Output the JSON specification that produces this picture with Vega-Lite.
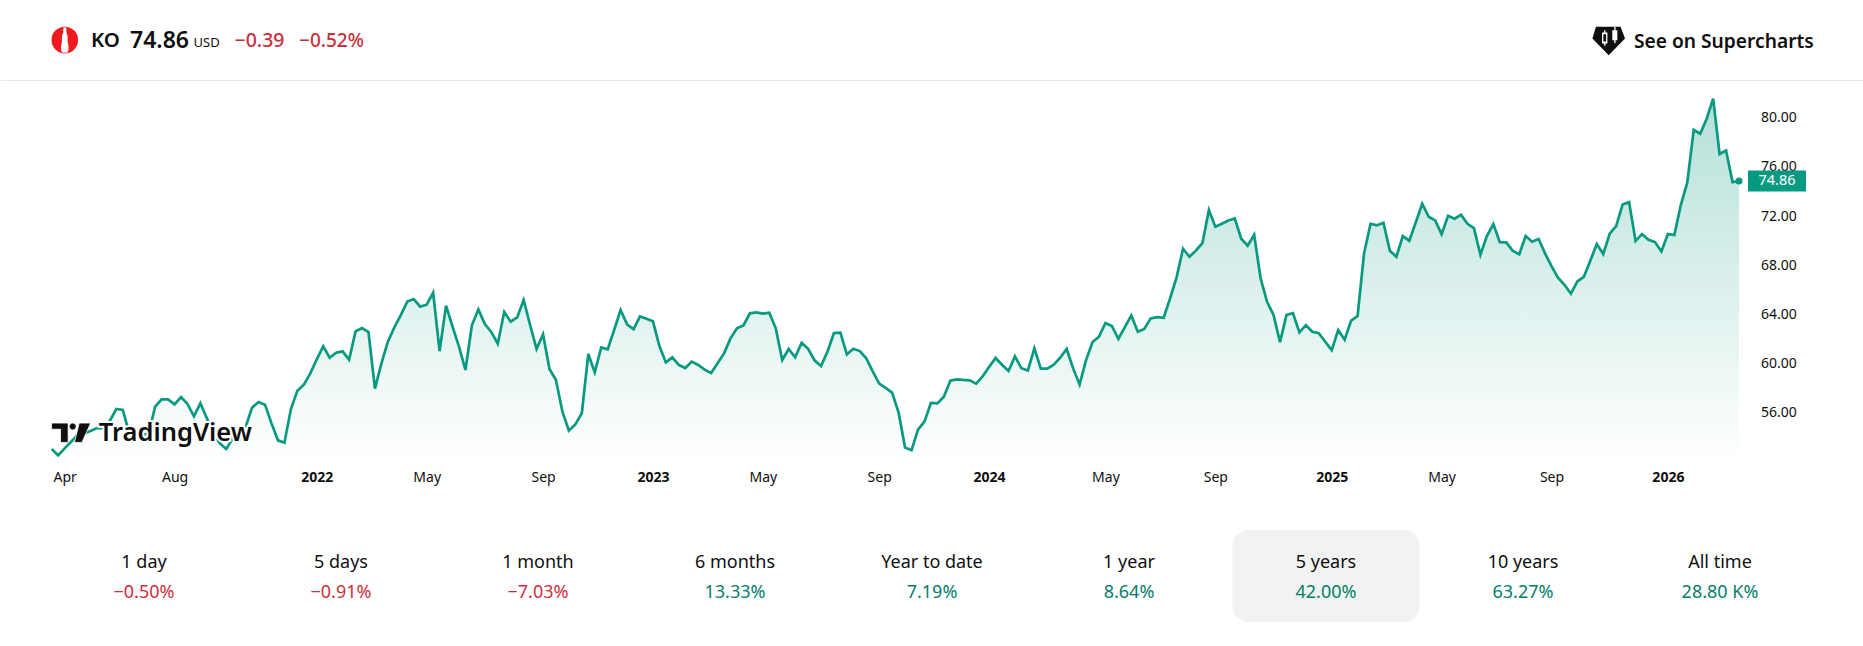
{
  "$schema": "https://vega.github.io/schema/vega-lite/v6.json",
  "description": "KO weekly close over 5 years with period performance row",
  "padding": 0,
  "spacing": 0,
  "bounds": "flush",
  "background": "white",
  "config": {
    "view": {"stroke": null},
    "font": "Noto Sans",
    "text": {"font": "Noto Sans"},
    "axis": {"labelFont": "Noto Sans"}
  },
  "datasets": {
    "header": [
      {"side": "left", "item": "icon"},
      {"side": "left", "item": "KO"},
      {"side": "left", "item": "74.86"},
      {"side": "left", "item": "USD"},
      {"side": "left", "item": "−0.39"},
      {"side": "left", "item": "−0.52%"},
      {"side": "right", "item": "See on Supercharts"}
    ],
    "periods": [
      {"period": "1 day", "change": -0.5, "label": "−0.50%"},
      {"period": "5 days", "change": -0.91, "label": "−0.91%"},
      {"period": "1 month", "change": -7.03, "label": "−7.03%"},
      {"period": "6 months", "change": 13.33, "label": "13.33%"},
      {"period": "Year to date", "change": 7.19, "label": "7.19%"},
      {"period": "1 year", "change": 8.64, "label": "8.64%"},
      {"period": "5 years", "change": 42.0, "label": "42.00%"},
      {"period": "10 years", "change": 63.27, "label": "63.27%"},
      {"period": "All time", "change": 28800, "label": "28.80 K%"}
    ],
    "last": [{"date": "2026-03-23", "close": 74.86}],
    "prices": [
      {"date":"2021-03-22","close":53.07},{"date":"2021-03-29","close":52.55},{"date":"2021-04-05","close":53.12},{"date":"2021-04-12","close":53.66},{"date":"2021-04-19","close":54.21},{"date":"2021-04-26","close":54.34},{"date":"2021-05-03","close":54.53},{"date":"2021-05-10","close":54.77},{"date":"2021-05-17","close":54.77},{"date":"2021-05-24","close":55.37},{"date":"2021-05-31","close":56.32},{"date":"2021-06-07","close":56.24},{"date":"2021-06-14","close":54.34},{"date":"2021-06-21","close":54.07},{"date":"2021-06-28","close":54.21},{"date":"2021-07-05","close":54.34},{"date":"2021-07-12","close":56.51},{"date":"2021-07-19","close":57.1},{"date":"2021-07-26","close":57.1},{"date":"2021-08-02","close":56.7},{"date":"2021-08-09","close":57.29},{"date":"2021-08-16","close":56.73},{"date":"2021-08-23","close":55.72},{"date":"2021-08-30","close":56.78},{"date":"2021-09-06","close":55.56},{"date":"2021-09-13","close":54.34},{"date":"2021-09-20","close":53.53},{"date":"2021-09-27","close":53.07},{"date":"2021-10-04","close":53.93},{"date":"2021-10-11","close":54.48},{"date":"2021-10-18","close":54.88},{"date":"2021-10-25","close":56.43},{"date":"2021-11-01","close":56.89},{"date":"2021-11-08","close":56.67},{"date":"2021-11-15","close":55.15},{"date":"2021-11-22","close":53.77},{"date":"2021-11-29","close":53.58},{"date":"2021-12-06","close":56.32},{"date":"2021-12-13","close":57.81},{"date":"2021-12-20","close":58.3},{"date":"2021-12-27","close":59.22},
      {"date":"2022-01-03","close":60.36},{"date":"2022-01-10","close":61.41},{"date":"2022-01-17","close":60.49},{"date":"2022-01-24","close":60.9},{"date":"2022-01-31","close":61.01},{"date":"2022-02-07","close":60.33},{"date":"2022-02-14","close":62.63},{"date":"2022-02-21","close":62.9},{"date":"2022-02-28","close":62.58},{"date":"2022-03-07","close":57.97},{"date":"2022-03-14","close":60.03},{"date":"2022-03-21","close":61.79},{"date":"2022-03-28","close":62.96},{"date":"2022-04-04","close":63.96},{"date":"2022-04-11","close":65.05},{"date":"2022-04-18","close":65.26},{"date":"2022-04-25","close":64.64},{"date":"2022-05-02","close":64.8},{"date":"2022-05-09","close":65.78},{"date":"2022-05-16","close":61.03},{"date":"2022-05-23","close":64.72},{"date":"2022-05-30","close":63.01},{"date":"2022-06-06","close":61.39},{"date":"2022-06-13","close":59.49},{"date":"2022-06-20","close":63.15},{"date":"2022-06-27","close":64.42},{"date":"2022-07-04","close":63.23},{"date":"2022-07-11","close":62.58},{"date":"2022-07-18","close":61.63},{"date":"2022-07-25","close":64.21},{"date":"2022-08-01","close":63.42},{"date":"2022-08-08","close":63.77},{"date":"2022-08-15","close":65.18},{"date":"2022-08-22","close":63.15},{"date":"2022-08-29","close":61.2},{"date":"2022-09-05","close":62.39},{"date":"2022-09-12","close":59.57},{"date":"2022-09-19","close":58.68},{"date":"2022-09-26","close":56.1},{"date":"2022-10-03","close":54.56},{"date":"2022-10-10","close":55.07},{"date":"2022-10-17","close":55.97},{"date":"2022-10-24","close":60.79},{"date":"2022-10-31","close":59.3},{"date":"2022-11-07","close":61.33},{"date":"2022-11-14","close":61.17},{"date":"2022-11-21","close":62.74},{"date":"2022-11-28","close":64.37},{"date":"2022-12-05","close":63.2},{"date":"2022-12-12","close":62.8},{"date":"2022-12-19","close":63.85},{"date":"2022-12-26","close":63.66},
      {"date":"2023-01-02","close":63.45},{"date":"2023-01-09","close":61.44},{"date":"2023-01-16","close":60.11},{"date":"2023-01-23","close":60.52},{"date":"2023-01-30","close":59.9},{"date":"2023-02-06","close":59.65},{"date":"2023-02-13","close":60.17},{"date":"2023-02-20","close":59.9},{"date":"2023-02-27","close":59.52},{"date":"2023-03-06","close":59.25},{"date":"2023-03-13","close":60.03},{"date":"2023-03-20","close":60.84},{"date":"2023-03-27","close":62.06},{"date":"2023-04-03","close":62.88},{"date":"2023-04-10","close":63.12},{"date":"2023-04-17","close":64.1},{"date":"2023-04-24","close":64.18},{"date":"2023-05-01","close":64.07},{"date":"2023-05-08","close":64.15},{"date":"2023-05-15","close":62.88},{"date":"2023-05-22","close":60.3},{"date":"2023-05-29","close":61.2},{"date":"2023-06-05","close":60.52},{"date":"2023-06-12","close":61.71},{"date":"2023-06-19","close":61.22},{"date":"2023-06-26","close":60.28},{"date":"2023-07-03","close":59.82},{"date":"2023-07-10","close":60.98},{"date":"2023-07-17","close":62.5},{"date":"2023-07-24","close":62.53},{"date":"2023-07-31","close":60.76},{"date":"2023-08-07","close":61.22},{"date":"2023-08-14","close":61.03},{"date":"2023-08-21","close":60.44},{"date":"2023-08-28","close":59.38},{"date":"2023-09-04","close":58.38},{"date":"2023-09-11","close":58.03},{"date":"2023-09-18","close":57.65},{"date":"2023-09-25","close":56.02},{"date":"2023-10-02","close":53.18},{"date":"2023-10-09","close":52.96},{"date":"2023-10-16","close":54.64},{"date":"2023-10-23","close":55.29},{"date":"2023-10-30","close":56.81},{"date":"2023-11-06","close":56.78},{"date":"2023-11-13","close":57.32},{"date":"2023-11-20","close":58.62},{"date":"2023-11-27","close":58.73},{"date":"2023-12-04","close":58.68},{"date":"2023-12-11","close":58.65},{"date":"2023-12-18","close":58.38},{"date":"2023-12-25","close":58.97},
      {"date":"2024-01-01","close":59.73},{"date":"2024-01-08","close":60.47},{"date":"2024-01-15","close":59.92},{"date":"2024-01-22","close":59.41},{"date":"2024-01-29","close":60.6},{"date":"2024-02-05","close":59.63},{"date":"2024-02-12","close":59.44},{"date":"2024-02-19","close":61.25},{"date":"2024-02-26","close":59.6},{"date":"2024-03-04","close":59.6},{"date":"2024-03-11","close":59.92},{"date":"2024-03-18","close":60.49},{"date":"2024-03-25","close":61.2},{"date":"2024-04-01","close":59.62},{"date":"2024-04-08","close":58.32},{"date":"2024-04-15","close":60.3},{"date":"2024-04-22","close":61.76},{"date":"2024-04-29","close":62.2},{"date":"2024-05-06","close":63.31},{"date":"2024-05-13","close":63.06},{"date":"2024-05-20","close":62.03},{"date":"2024-05-27","close":62.98},{"date":"2024-06-03","close":63.93},{"date":"2024-06-10","close":62.6},{"date":"2024-06-17","close":62.82},{"date":"2024-06-24","close":63.69},{"date":"2024-07-01","close":63.79},{"date":"2024-07-08","close":63.74},{"date":"2024-07-15","close":65.31},{"date":"2024-07-22","close":67.02},{"date":"2024-07-29","close":69.35},{"date":"2024-08-05","close":68.7},{"date":"2024-08-12","close":69.21},{"date":"2024-08-19","close":69.81},{"date":"2024-08-26","close":72.49},{"date":"2024-09-02","close":71.14},{"date":"2024-09-09","close":71.38},{"date":"2024-09-16","close":71.65},{"date":"2024-09-23","close":71.82},{"date":"2024-09-30","close":70.16},{"date":"2024-10-07","close":69.59},{"date":"2024-10-14","close":70.49},{"date":"2024-10-21","close":66.94},{"date":"2024-10-28","close":65.04},{"date":"2024-11-04","close":63.96},{"date":"2024-11-11","close":61.76},{"date":"2024-11-18","close":63.96},{"date":"2024-11-25","close":64.12},{"date":"2024-12-02","close":62.55},{"date":"2024-12-09","close":63.14},{"date":"2024-12-16","close":62.6},{"date":"2024-12-23","close":62.49},{"date":"2024-12-30","close":61.79},
      {"date":"2025-01-06","close":61.11},{"date":"2025-01-13","close":62.74},{"date":"2025-01-20","close":61.95},{"date":"2025-01-27","close":63.5},{"date":"2025-02-03","close":63.88},{"date":"2025-02-10","close":68.97},{"date":"2025-02-17","close":71.38},{"date":"2025-02-24","close":71.25},{"date":"2025-03-03","close":71.46},{"date":"2025-03-10","close":69.19},{"date":"2025-03-17","close":68.7},{"date":"2025-03-24","close":70.38},{"date":"2025-03-31","close":70.0},{"date":"2025-04-07","close":71.49},{"date":"2025-04-14","close":73.01},{"date":"2025-04-21","close":71.95},{"date":"2025-04-28","close":71.65},{"date":"2025-05-05","close":70.54},{"date":"2025-05-12","close":72.03},{"date":"2025-05-19","close":71.79},{"date":"2025-05-26","close":72.11},{"date":"2025-06-02","close":71.38},{"date":"2025-06-09","close":71.03},{"date":"2025-06-16","close":68.86},{"date":"2025-06-23","close":70.38},{"date":"2025-06-30","close":71.36},{"date":"2025-07-07","close":69.89},{"date":"2025-07-14","close":69.87},{"date":"2025-07-21","close":69.19},{"date":"2025-07-28","close":68.89},{"date":"2025-08-04","close":70.38},{"date":"2025-08-11","close":69.92},{"date":"2025-08-18","close":70.14},{"date":"2025-08-25","close":68.97},{"date":"2025-09-01","close":67.94},{"date":"2025-09-08","close":66.99},{"date":"2025-09-15","close":66.42},{"date":"2025-09-22","close":65.69},{"date":"2025-09-29","close":66.69},{"date":"2025-10-06","close":67.07},{"date":"2025-10-13","close":68.37},{"date":"2025-10-20","close":69.73},{"date":"2025-10-27","close":68.92},{"date":"2025-11-03","close":70.57},{"date":"2025-11-10","close":71.19},{"date":"2025-11-17","close":72.95},{"date":"2025-11-24","close":73.14},{"date":"2025-12-01","close":69.99},{"date":"2025-12-08","close":70.54},{"date":"2025-12-15","close":70.08},{"date":"2025-12-22","close":69.89},{"date":"2025-12-29","close":69.13},
      {"date":"2026-01-05","close":70.54},{"date":"2026-01-12","close":70.46},{"date":"2026-01-19","close":72.9},{"date":"2026-01-26","close":74.74},{"date":"2026-02-02","close":79.02},{"date":"2026-02-09","close":78.7},{"date":"2026-02-16","close":79.92},{"date":"2026-02-23","close":81.55},{"date":"2026-03-02","close":77.05},{"date":"2026-03-09","close":77.34},{"date":"2026-03-16","close":74.77},{"date":"2026-03-23","close":74.86}
    ]
  },
  "vconcat": [
    {
      "width": 1863,
      "height": 80,
      "data": {"name": "header"},
      "encoding": {
        "x": {
          "field": "side",
          "type": "nominal",
          "scale": {"domain": ["left", "right"], "padding": 0},
          "axis": {"title": null, "labels": false, "ticks": false, "grid": false, "domainColor": "#e9e9ea", "domainWidth": 1}
        }
      },
      "layer": [
        {
          "transform": [{"filter": "datum.item == 'icon'"}],
          "mark": {"type": "point", "shape": "circle", "filled": true, "opacity": 1, "color": "#f0191e", "size": 707, "xOffset": 64.8}
        },
        {
          "transform": [{"filter": "datum.item == 'icon'"}],
          "mark": {"type": "point", "shape": "M-0.1,-0.9H0.1L0.12,-0.5C0.3,-0.2 0.12,0 0.25,0.3C0.3,0.6 0.25,0.8 0.2,0.9H-0.2C-0.25,0.8 -0.3,0.6 -0.25,0.3C-0.12,0 -0.3,-0.2 -0.12,-0.5Z", "filled": true, "opacity": 1, "color": "white", "size": 784, "xOffset": 64.8}
        },
        {
          "transform": [{"filter": "datum.item == 'See on Supercharts'"}],
          "mark": {"type": "point", "shape": "M-0.78,-0.86H0.73L1,-0.14L0,0.88L-1,-0.14Z", "filled": true, "opacity": 1, "color": "#0f0f0f", "size": 1063, "xOffset": -254.3, "yOffset": 0.8}
        },
        {
          "transform": [{"filter": "datum.item == 'See on Supercharts'"}],
          "mark": {"type": "point", "shape": "M-0.41,-0.51H-0.28V-0.65H-0.2V-0.51H-0.08V0.16H-0.2V0.3H-0.28V0.16H-0.41ZM-0.33,-0.4V0.05H-0.16V-0.4ZM0.22,-0.65H0.34V-0.85H0.42V-0.65H0.53V-0.04H0.42V0.15H0.34V-0.04H0.22Z", "filled": true, "opacity": 1, "color": "white", "size": 1063, "xOffset": -254.3, "yOffset": 0.8}
        },
        {
          "transform": [{"filter": "datum.item == 'KO'"}],
          "mark": {"type": "text", "align": "left", "dx": 91, "dy": 1, "fontSize": 20.5, "fontWeight": 600, "color": "#0f0f0f"},
          "encoding": {"text": {"field": "item"}}
        },
        {
          "transform": [{"filter": "datum.item == '74.86'"}],
          "mark": {"type": "text", "align": "left", "dx": 130, "dy": 1, "fontSize": 23, "fontWeight": 600, "color": "#0f0f0f"},
          "encoding": {"text": {"field": "item"}}
        },
        {
          "transform": [{"filter": "datum.item == 'USD'"}],
          "mark": {"type": "text", "align": "left", "dx": 193.5, "dy": 3, "fontSize": 13, "color": "#0f0f0f"},
          "encoding": {"text": {"field": "item"}}
        },
        {
          "transform": [{"filter": "datum.item == '−0.39'"}],
          "mark": {"type": "text", "align": "left", "dx": 234.5, "dy": 1, "fontSize": 19.5, "fontWeight": 500, "color": "#cc2f3c"},
          "encoding": {"text": {"field": "item"}}
        },
        {
          "transform": [{"filter": "datum.item == '−0.52%'"}],
          "mark": {"type": "text", "align": "left", "dx": 299, "dy": 1, "fontSize": 19, "fontWeight": 500, "color": "#cc2f3c"},
          "encoding": {"text": {"field": "item"}}
        },
        {
          "transform": [{"filter": "datum.item == 'See on Supercharts'"}],
          "mark": {"type": "text", "align": "left", "dx": -229, "dy": 1.5, "fontSize": 19.2, "fontWeight": 600, "color": "#0f0f0f"},
          "encoding": {"text": {"field": "item"}}
        }
      ]
    },
    {
      "width": 1739,
      "height": 450,
      "layer": [
        {
          "data": {"name": "prices"},
          "encoding": {
            "x": {
              "field": "date",
              "type": "temporal",
              "scale": {
                "type": "utc",
                "domain": [
                  {"year": 2021, "month": 1, "date": 25, "utc": true},
                  {"year": 2026, "month": 3, "date": 23, "utc": true}
                ]
              },
              "axis": {
                "title": null,
                "grid": false,
                "domain": false,
                "ticks": false,
                "offset": -72,
                "labelPadding": 12,
                "labelFontSize": 14,
                "labelColor": "#0f0f0f",
                "labelAngle": 0,
                "labelOverlap": false,
                "labelFlush": false,
                "values": [
                  {"year": 2021, "month": 4, "date": 5, "utc": true},
                  {"year": 2021, "month": 8, "date": 2, "utc": true},
                  {"year": 2022, "month": 1, "date": 3, "utc": true},
                  {"year": 2022, "month": 5, "date": 2, "utc": true},
                  {"year": 2022, "month": 9, "date": 5, "utc": true},
                  {"year": 2023, "month": 1, "date": 2, "utc": true},
                  {"year": 2023, "month": 5, "date": 1, "utc": true},
                  {"year": 2023, "month": 9, "date": 4, "utc": true},
                  {"year": 2024, "month": 1, "date": 1, "utc": true},
                  {"year": 2024, "month": 5, "date": 6, "utc": true},
                  {"year": 2024, "month": 9, "date": 2, "utc": true},
                  {"year": 2025, "month": 1, "date": 6, "utc": true},
                  {"year": 2025, "month": 5, "date": 5, "utc": true},
                  {"year": 2025, "month": 9, "date": 1, "utc": true},
                  {"year": 2026, "month": 1, "date": 5, "utc": true}
                ],
                "labelExpr": "utcmonth(datum.value) == 0 ? utcFormat(datum.value, '%Y') : utcFormat(datum.value, '%b')",
                "labelFontWeight": {"condition": {"test": "utcmonth(datum.value) == 0", "value": "bold"}, "value": "normal"}
              }
            },
            "y": {
              "field": "close",
              "type": "quantitative",
              "scale": {"domain": [46.48, 83.07], "nice": false, "zero": false},
              "axis": {
                "title": null,
                "orient": "right",
                "grid": false,
                "domain": false,
                "ticks": false,
                "labelPadding": 21.5,
                "labelFontSize": 14,
                "labelColor": "#0f0f0f",
                "values": [56, 60, 64, 68, 72, 76, 80],
                "format": ".2f"
              }
            }
          },
          "layer": [
            {
              "mark": {
                "type": "area",
                "line": false,
                "color": {
                  "x1": 1, "y1": 1, "x2": 1, "y2": 0,
                  "gradient": "linear",
                  "stops": [{"offset": 0, "color": "#ffffff"}, {"offset": 1, "color": "#b5e0d9"}]
                }
              },
              "encoding": {"y2": {"datum": 52.17}}
            },
            {"mark": {"type": "line", "color": "#089981", "strokeWidth": 2.7, "strokeJoin": "miter"}},
            {
              "data": {"name": "last"},
              "mark": {"type": "point", "shape": "circle", "filled": true, "opacity": 1, "color": "#089981", "size": 50}
            },
            {
              "data": {"name": "last"},
              "mark": {"type": "point", "shape": "M-1,-0.36H1V0.36H-1Z", "filled": true, "opacity": 1, "color": "#089981", "size": 3364, "xOffset": 38}
            },
            {
              "data": {"name": "last"},
              "mark": {"type": "text", "color": "white", "fontSize": 14.5, "dx": 38},
              "encoding": {"text": {"field": "close", "type": "quantitative", "format": ".2f"}}
            }
          ]
        },
        {
          "data": {"values": [{"brand": "TradingView"}]},
          "mark": {"type": "point", "shape": "M-0.99,-0.49H-0.15V0.49H-0.535V-0.175H-0.99ZM-0.095,-0.316a0.175,0.175 0 1,0 0.35,0a0.175,0.175 0 1,0 -0.35,0ZM0.41,-0.49H0.99L0.55,0.49H0.167Z", "filled": true, "opacity": 1, "color": "#0f0f0f", "stroke": "white", "strokeWidth": 0.8, "size": 1560},
          "encoding": {
            "x": {"datum": {"year": 2021, "month": 4, "date": 12, "utc": true}},
            "y": {"datum": 54.39}
          }
        },
        {
          "data": {"values": [{"brand": "TradingView"}]},
          "mark": {"type": "text", "align": "left", "fontSize": 25.5, "fontWeight": 600, "color": "white", "stroke": "white", "strokeWidth": 4},
          "encoding": {
            "x": {"datum": {"year": 2021, "month": 5, "date": 12, "utc": true}},
            "y": {"datum": 54.39},
            "text": {"field": "brand"}
          }
        },
        {
          "data": {"values": [{"brand": "TradingView"}]},
          "mark": {"type": "text", "align": "left", "fontSize": 25.5, "fontWeight": 600, "color": "#0f0f0f"},
          "encoding": {
            "x": {"datum": {"year": 2021, "month": 5, "date": 12, "utc": true}},
            "y": {"datum": 54.39},
            "text": {"field": "brand"}
          }
        }
      ]
    },
    {
      "width": 1863,
      "height": 92,
      "data": {"name": "periods"},
      "encoding": {
        "x": {
          "field": "period",
          "type": "nominal",
          "scale": {
            "domain": ["1 day", "5 days", "1 month", "6 months", "Year to date", "1 year", "5 years", "10 years", "All time"],
            "range": [45.5, 1818.5],
            "paddingInner": 0.05,
            "paddingOuter": 0.025
          },
          "axis": null
        }
      },
      "layer": [
        {
          "transform": [{"filter": "datum.period == '5 years'"}],
          "mark": {"type": "bar", "color": "#f2f2f2", "cornerRadius": 16}
        },
        {
          "mark": {"type": "text", "fontSize": 18, "color": "#0f0f0f"},
          "encoding": {
            "y": {"datum": "period", "type": "nominal", "scale": {"domain": ["period", "change"], "range": [32.7, 62.7], "padding": 0}, "axis": null},
            "text": {"field": "period"}
          }
        },
        {
          "mark": {"type": "text", "fontSize": 18},
          "encoding": {
            "y": {"datum": "change", "type": "nominal", "scale": {"domain": ["period", "change"], "range": [32.7, 62.7], "padding": 0}, "axis": null},
            "text": {"field": "label"},
            "color": {"condition": {"test": "datum.change < 0", "value": "#cc2f3c"}, "value": "#057e6b"}
          }
        }
      ]
    }
  ]
}
